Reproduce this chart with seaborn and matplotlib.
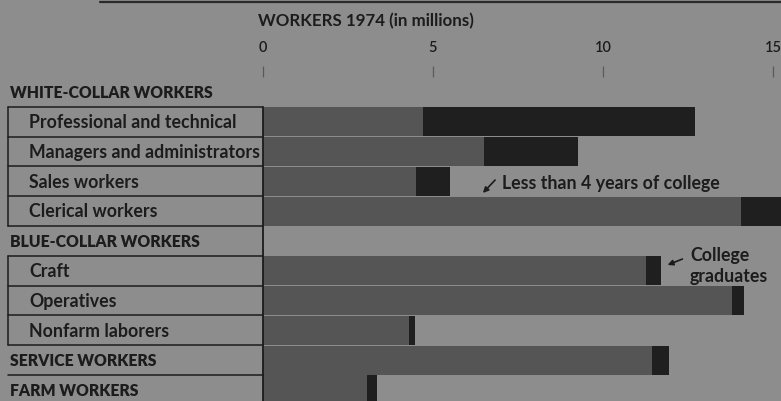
import matplotlib
matplotlib.use("Agg")
import matplotlib.pyplot as plt
import matplotlib.transforms as mtransforms
import seaborn as sns
import pandas as pd

# ---- data (millions of workers, 1974) ----
categories = [
    "WHITE-COLLAR WORKERS",
    "Professional and technical",
    "Managers and administrators",
    "Sales workers",
    "Clerical workers",
    "BLUE-COLLAR WORKERS",
    "Craft",
    "Operatives",
    "Nonfarm laborers",
    "SERVICE WORKERS",
    "FARM WORKERS",
]
is_header = [True, False, False, False, False, True, False, False, False, True, True]
less_than_4_years = [0, 4.7, 6.5, 4.5, 14.05, 0, 11.25, 13.8, 4.3, 11.45, 3.05]
college_graduates = [0, 8.0, 2.75, 1.0, 1.25, 0, 0.45, 0.35, 0.18, 0.5, 0.3]
xticks = [0, 5, 10, 15]
title = "WORKERS 1974 (in millions)"

totals = [a + b for a, b in zip(less_than_4_years, college_graduates)]
df = pd.DataFrame({"category": categories, "less": less_than_4_years, "total": totals})

BG = "#8d8d8d"
LIGHT = "#555555"
DARK = "#1f1f1f"
INK = "#1c1c1c"

sns.set_theme(style="white")
plt.rcParams["font.family"] = ["Lato", "DejaVu Sans"]

W, H = 781, 401
fig = plt.figure(figsize=(W / 100, H / 100), dpi=100, facecolor=BG)

x0_px, top_px, bot_px = 263, 77, 401
ax = fig.add_axes([x0_px / W, 0, 1 - x0_px / W, (H - top_px) / H])
ax.set_facecolor(BG)

row_px = 29.8
y_bottom = (bot_px - top_px) / row_px - 0.5

sns.barplot(data=df, x="total", y="category", order=categories, orient="h",
            color=DARK, saturation=1, width=0.97, linewidth=0, ax=ax)
sns.barplot(data=df, x="less", y="category", order=categories, orient="h",
            color=LIGHT, saturation=1, width=0.97, linewidth=0, ax=ax)

px_per_unit = 34.0
ax.set_xlim(0, (W - x0_px) / px_per_unit)
ax.set_ylim(y_bottom, -0.5)
ax.set_xlabel("")
ax.set_ylabel("")
ax.set_yticks([])
for s in ["top", "right", "bottom", "left"]:
    ax.spines[s].set_visible(False)

ax.xaxis.set_ticks_position("top")
ax.set_xticks(xticks)
ax.set_xticklabels([str(t) for t in xticks], fontsize=10.5, color=INK, fontweight="semibold")
ax.tick_params(axis="x", direction="out", length=8, width=0.9, color="#5a5a5a", pad=8)

# ---- left label table ----
tr = mtransforms.blended_transform_factory(fig.transFigure, ax.transData)
left_px = 8
for i in range(len(categories) - 1):
    y = i + 0.5
    ax.plot([left_px / W, x0_px / W], [y, y], transform=tr, color=INK, lw=1.1, clip_on=False)
ax.plot([x0_px / W - 0.0005] * 2, [0.5, y_bottom], transform=tr, color=INK, lw=1.3, clip_on=False)
ax.plot([left_px / W] * 2, [0.5, 4.5], transform=tr, color=INK, lw=1.1, clip_on=False)
ax.plot([left_px / W] * 2, [5.5, 8.5], transform=tr, color=INK, lw=1.1, clip_on=False)

fig.canvas.draw()
renderer = fig.canvas.get_renderer()

head_texts, sub_texts = [], []
for i, (c, h) in enumerate(zip(categories, is_header)):
    if h:
        t = ax.text(10 / W, i + 0.03, c, transform=tr, ha="left", va="center",
                    fontsize=10, fontweight="heavy", color=INK, clip_on=False)
        head_texts.append(t)
    else:
        t = ax.text(29 / W, i + 0.03, c, transform=tr, ha="left", va="center",
                    fontsize=10, fontweight="bold", color=INK, clip_on=False)
        sub_texts.append(t)


def fit_group(texts, ref_text, target_px):
    bb = ref_text.get_window_extent(renderer)
    fs = ref_text.get_fontsize() * target_px / bb.width
    for t in texts:
        t.set_fontsize(fs)


fit_group(head_texts, head_texts[0], 202)
fit_group(sub_texts, sub_texts[1], 230)

tt = fig.text(258 / W, 1 - 21 / H, title, ha="left", va="center",
              fontsize=11, fontweight="bold", color=INK)
fit_group([tt], tt, 215)

# top rule
fig.add_artist(plt.Line2D([100 / W, 1], [1 - 2 / H, 1 - 2 / H], transform=fig.transFigure,
                          color="#2a2a2a", lw=1.6))

# annotations
def px2data(xp, yp):
    return ((xp - x0_px) / px_per_unit, (yp - top_px) / row_px - 0.5)

ann_fs = sub_texts[0].get_fontsize()
tx, ty = px2data(502, 183)
ax.text(tx, ty, "Less than 4 years of college", ha="left", va="center",
        fontsize=ann_fs, fontweight="bold", color=INK)
ax.annotate("", xy=px2data(481, 195), xytext=px2data(497, 178),
            arrowprops=dict(arrowstyle="-|>", color=INK, lw=1.2, mutation_scale=8))

tx, ty = px2data(690, 266)
ax.text(tx, ty, "College\ngraduates", ha="left", va="center", linespacing=1.35,
        fontsize=ann_fs, fontweight="bold", color=INK, clip_on=False)
ax.annotate("", xy=px2data(665, 266), xytext=px2data(685, 258),
            arrowprops=dict(arrowstyle="-|>", color=INK, lw=1.2, mutation_scale=8))

fig.savefig("out.png", dpi=100, facecolor=BG)
